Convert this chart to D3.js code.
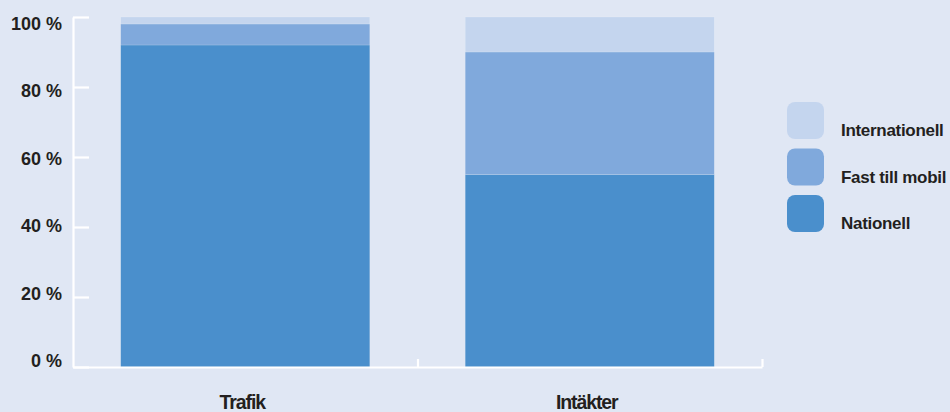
<!DOCTYPE html>
<html>
<head>
<meta charset="utf-8">
<script src="https://cdn.jsdelivr.net/npm/d3@7"></script>
<style>
  html, body { margin: 0; padding: 0; background: #e0e7f4; }
  svg { display: block; }
  text { font-family: "Liberation Sans", Arial, sans-serif; font-weight: bold; fill: #231f20; }
</style>
</head>
<body>
<script>
// Share of traffic and revenue by call type (percent)
const categories = ["Trafik", "Intäkter"];
const seriesNames = ["Nationell", "Fast till mobil", "Internationell"];
const nationell = [92, 55];
const fastTillMobil = [6, 35];
const internationell = [2, 10];
const yTicks = [0, 20, 40, 60, 80, 100];
const colors = ["#4a8fcc", "#80a9dc", "#c4d5ee"];

const W = 950, H = 412;
const svg = d3.select("body").append("svg").attr("width", W).attr("height", H);
svg.append("rect").attr("width", W).attr("height", H).attr("fill", "#e0e7f4");

const x0 = 73, x1 = 762, yTop = 17, yBot = 367;

const rows = categories.map((c, i) => ({
  cat: c,
  "Nationell": nationell[i],
  "Fast till mobil": fastTillMobil[i],
  "Internationell": internationell[i]
}));
const stacked = d3.stack().keys(seriesNames)(rows);

const x = d3.scaleBand().domain(categories).range([x0, x1])
  .paddingInner(0.277).paddingOuter(0.1385);
const y = d3.scaleLinear().domain([0, 100]).range([yBot, yTop]);
// tick labels sit on a slightly tighter ladder than the tick marks
const yLabel = d3.scaleLinear().domain([0, 100]).range([yBot, 29.5]);
const color = d3.scaleOrdinal().domain(seriesNames).range(colors);

// stacked bars
svg.append("g").selectAll("g").data(stacked).join("g")
  .attr("fill", d => color(d.key))
  .selectAll("rect").data(d => d).join("rect")
  .attr("x", d => x(d.data.cat))
  .attr("width", x.bandwidth())
  .attr("y", d => y(d[1]))
  .attr("height", d => y(d[0]) - y(d[1]))
  .attr("stroke", "rgba(255,255,255,0.25)")
  .attr("stroke-width", 0.6);

// y axis: white line with inward ticks
const yAxis = svg.append("g").attr("transform", `translate(${x0},0)`)
  .call(d3.axisLeft(y).tickValues(yTicks).tickSizeInner(-16).tickSizeOuter(0).tickFormat(""));
yAxis.selectAll("path, line").attr("stroke", "#ffffff").attr("stroke-width", 2.2);

svg.append("g").selectAll("text").data(yTicks).join("text")
  .attr("x", 62)
  .attr("y", d => yLabel(d))
  .attr("text-anchor", "end")
  .attr("font-size", 18)
  .text(d => d + " %");

// x axis: ticks at band boundaries
const xb = d3.scaleLinear().domain([0, categories.length]).range([x0, x1]);
const xAxis = svg.append("g").attr("transform", `translate(0,${yBot})`)
  .call(d3.axisBottom(xb).tickValues(d3.range(1, categories.length + 1)).tickSizeInner(-8).tickSizeOuter(0).tickFormat(""));
xAxis.selectAll("path, line").attr("stroke", "#ffffff").attr("stroke-width", 2.2);

svg.append("g").selectAll("text").data(categories).join("text")
  .attr("x", d => x(d) + x.bandwidth() / 2 - 3)
  .attr("y", 409)
  .attr("text-anchor", "middle")
  .attr("font-size", 19.5)
  .attr("letter-spacing", -1.1)
  .text(d => d);

// legend, top entry is the top of the stack
const legendItems = seriesNames.slice().reverse();
const lg = svg.append("g").attr("transform", "translate(787,102)");
const li = lg.selectAll("g").data(legendItems).join("g")
  .attr("transform", (d, i) => `translate(0,${i * 46.5})`);
li.append("rect").attr("width", 37).attr("height", 37).attr("rx", 8).attr("ry", 8)
  .attr("fill", d => color(d));
li.append("text")
  .attr("x", 54).attr("y", 34)
  .attr("font-size", 17)
  .attr("letter-spacing", -0.3)
  .text(d => d);
</script>
</body>
</html>
